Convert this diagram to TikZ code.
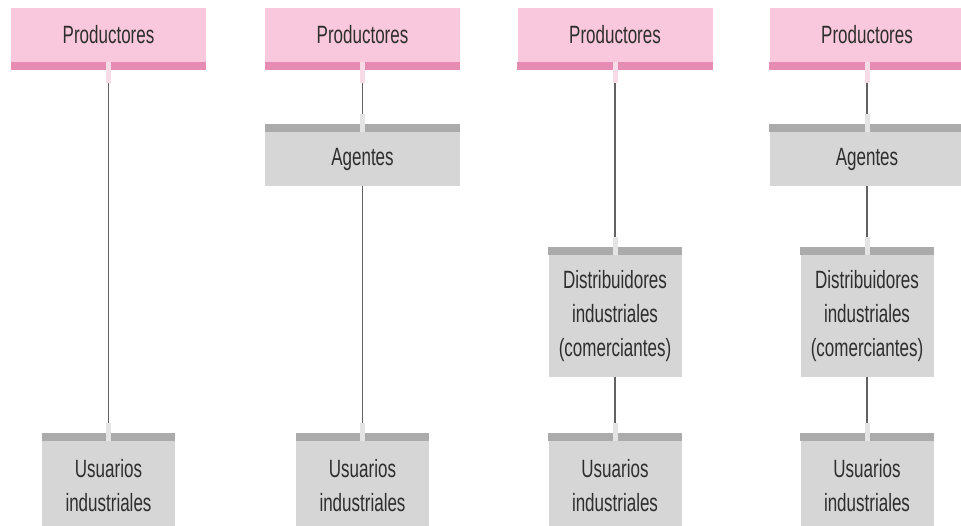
\documentclass[tikz,border=0pt]{standalone}
\usepackage{fontspec}
\setmainfont{Liberation Sans}[FakeStretch=0.68]

\definecolor{pinkfill}{HTML}{F9C8DC}
\definecolor{pinkband}{HTML}{E68CB2}
\definecolor{pinkstub}{HTML}{F7DCE8}
\definecolor{greyfill}{HTML}{D6D6D6}
\definecolor{greyband}{HTML}{ABABAB}
\definecolor{greystub}{HTML}{E4E4E4}
\definecolor{linegrey}{HTML}{626262}
\definecolor{textgrey}{HTML}{2E2E2E}

\begin{document}
\begin{tikzpicture}
            [x=1pt,y=-1pt,
             every node/.style={font=\fontsize{25}{34}\selectfont,text=textgrey,align=center,inner sep=0pt},
             prod/.style={fill=pinkfill,minimum width=195pt,minimum height=54pt,
               append after command={\pgfextra{\fill[pinkband] (\tikzlastnode.south west) rectangle ([yshift=-8pt]\tikzlastnode.south east);}}},
             inter/.style={fill=greyfill,minimum width=#1,
               append after command={\pgfextra{\fill[greyband] (\tikzlastnode.north west) rectangle ([yshift=8pt]\tikzlastnode.north east);}}},
             link/.style={draw=linegrey,line width=1.8pt,shorten >=18pt},
             stub/.style={line width=5pt}]

            \useasboundingbox (0,0) rectangle (961,526);

            % productores
            \node[prod] (p1) at (108.5, 35) {Productores};
            \node[prod] (p2) at (362.5, 35) {Productores};
            \node[prod] (p3) at (615, 35) {Productores};
            \node[prod] (p4) at (867, 35) {Productores};

            % intermediarios
            \node[inter=195pt,minimum height=54pt] (a2) at (362.5, 159) {Agentes};
            \node[inter=195pt,minimum height=54pt] (a4) at (867, 159) {Agentes};
            \node[inter=133pt,minimum height=122pt] (d3) at (615, 316) {Distribuidores\\industriales\\(comerciantes)};
            \node[inter=133pt,minimum height=122pt] (d4) at (867, 316) {Distribuidores\\industriales\\(comerciantes)};

            % usuarios
            \node[inter=133pt,minimum height=90pt] (u1) at (108.5, 486) {Usuarios\\industriales};
            \node[inter=133pt,minimum height=90pt] (u2) at (362.5, 486) {Usuarios\\industriales};
            \node[inter=133pt,minimum height=90pt] (u3) at (615, 486) {Usuarios\\industriales};
            \node[inter=133pt,minimum height=90pt] (u4) at (867, 486) {Usuarios\\industriales};

            \foreach \from/\to/\s in {p1/u1/21,p2/a2/21,a2/u2/0,p3/d3/21,d3/u3/0,p4/a4/21,a4/d4/0,d4/u4/0}
              \draw[link,shorten <=\s pt] (\from) -- (\to);

            \foreach \n in {p1,p2,p3,p4}
              \draw[stub,pinkstub] (\n.south) -- ++(0,21);
            \foreach \n in {a2,a4,d3,d4,u1,u2,u3,u4}
              \draw[stub,greystub] (\n.north) -- ++(0,-18);

          \end{tikzpicture}
\end{document}
